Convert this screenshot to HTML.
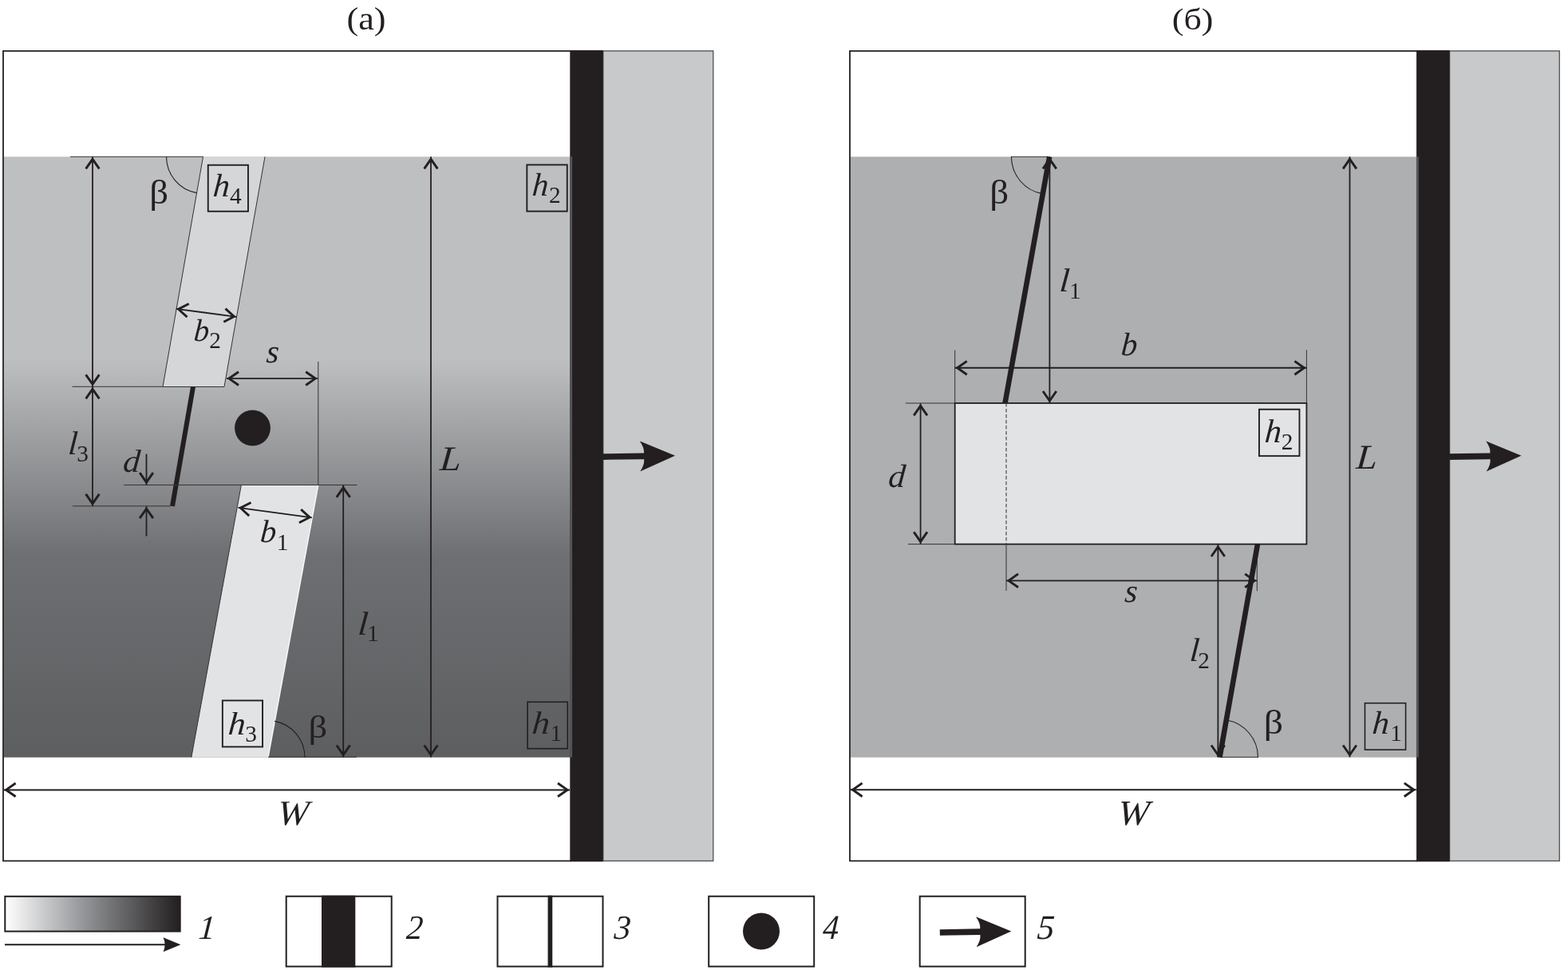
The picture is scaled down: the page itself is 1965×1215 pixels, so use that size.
<!DOCTYPE html>
<html lang="ru">
<head>
<meta charset="utf-8">
<title>Figure</title>
<style>
html,body{margin:0;padding:0;background:#fff;}
body{width:1965px;height:1215px;overflow:hidden;}
svg{display:block;will-change:transform;}
</style>
</head>
<body>
<svg width="1965" height="1215" viewBox="0 0 1965 1215" font-family="'Liberation Serif', 'DejaVu Serif', serif" fill="#231f20">
<defs>
<linearGradient id="ga" x1="0" y1="196.3" x2="0" y2="948.7" gradientUnits="userSpaceOnUse">
<stop offset="0" stop-color="#bebfc1"/>
<stop offset="0.336" stop-color="#bebfc1"/>
<stop offset="0.664" stop-color="#6e6f72"/>
<stop offset="1" stop-color="#5d5e60"/>
</linearGradient>
<linearGradient id="gl" x1="0" y1="0" x2="1" y2="0">
<stop offset="0" stop-color="#ffffff"/>
<stop offset="0.45" stop-color="#939598"/>
<stop offset="1" stop-color="#231f20"/>
</linearGradient>
</defs>
<rect x="0" y="0" width="1965" height="1215" fill="#fff"/>
<g id="panel-a">
<rect x="4" y="63.8" width="710.3" height="1014.6" fill="#fff"/>
<rect x="4.9" y="196.3" width="712.4" height="752.4" fill="url(#ga)"/>
<rect x="755.8" y="63.8" width="138.0" height="1014.6" fill="#c8c9cb" stroke="#4f5052" stroke-width="1.3"/>
<rect x="714.3" y="62.9" width="41.5" height="1016.4" fill="#231f20"/>
<rect x="714.0999999999999" y="196.3" width="3" height="752.4" fill="#535456"/>
<path d="M715.3,63.8 L4,63.8 L4,1078.4 L715.3,1078.4" fill="none" stroke="#231f20" stroke-width="1.8"/>
<polygon points="254.5,196.3 332,196.3 281,484.5 204,484.5" fill="#d5d6d8"/>
<line x1="254.5" y1="196.3" x2="204" y2="484.5" stroke="#333335" stroke-width="1.0" />
<line x1="332" y1="196.3" x2="281" y2="484.5" stroke="#333335" stroke-width="1.0" />
<line x1="204" y1="484.5" x2="281" y2="484.5" stroke="#333335" stroke-width="1.0" />
<polygon points="302.3,607.8 398.7,607.8 336,948.7 239.8,948.7" fill="#e2e3e4"/>
<line x1="302.3" y1="607.8" x2="239.8" y2="948.7" stroke="#333335" stroke-width="1.0" />
<line x1="398.7" y1="607.8" x2="336" y2="948.7" stroke="#f6f6f7" stroke-width="1.5" />
<line x1="242" y1="484.5" x2="216" y2="634" stroke="#231f20" stroke-width="6" />
<circle cx="316.5" cy="536.1" r="22.8" fill="#231f20" stroke="#b9babc" stroke-opacity="0.6" stroke-width="1"/>
<line x1="88" y1="196.3" x2="254.5" y2="196.3" stroke="#333335" stroke-width="1.0" />
<line x1="90.5" y1="484.3" x2="204" y2="484.3" stroke="#333335" stroke-width="1.0" />
<line x1="90.8" y1="633.9" x2="214" y2="633.9" stroke="#333335" stroke-width="1.0" />
<line x1="155.2" y1="607.5" x2="447.4" y2="607.5" stroke="#333335" stroke-width="1.0" />
<line x1="398.8" y1="453" x2="398.8" y2="607.5" stroke="#333335" stroke-width="1.0" />
<line x1="336" y1="948.3000000000001" x2="447" y2="948.3000000000001" stroke="#333335" stroke-width="1.0" />
<path d="M208.5,196.3 A46,46 0 0 0 246.5,241.6" fill="none" stroke="#231f20" stroke-width="1.1"/>
<path d="M382.0,948.7 A46,46 0 0 0 344.0,903.4" fill="none" stroke="#231f20" stroke-width="1.1"/>
<line x1="116" y1="196.3" x2="116" y2="484.3" stroke="#231f20" stroke-width="1.8" />
<polyline points="124.4,469.3 116.0,481.3 107.6,469.3" fill="none" stroke="#231f20" stroke-width="2.9" stroke-miterlimit="10"/>
<polyline points="107.6,211.3 116.0,199.3 124.4,211.3" fill="none" stroke="#231f20" stroke-width="2.9" stroke-miterlimit="10"/>
<line x1="116" y1="484.3" x2="116" y2="633.9" stroke="#231f20" stroke-width="1.8" />
<polyline points="124.4,618.9 116.0,630.9 107.6,618.9" fill="none" stroke="#231f20" stroke-width="2.9" stroke-miterlimit="10"/>
<polyline points="107.6,499.3 116.0,487.3 124.4,499.3" fill="none" stroke="#231f20" stroke-width="2.9" stroke-miterlimit="10"/>
<line x1="183.5" y1="568.7" x2="183.5" y2="607.2" stroke="#231f20" stroke-width="1.8" />
<polyline points="191.9,592.2 183.5,604.2 175.1,592.2" fill="none" stroke="#231f20" stroke-width="2.9" stroke-miterlimit="10"/>
<line x1="183.5" y1="671.5" x2="183.5" y2="634.2" stroke="#231f20" stroke-width="1.8" />
<polyline points="175.1,649.2 183.5,637.2 191.9,649.2" fill="none" stroke="#231f20" stroke-width="2.9" stroke-miterlimit="10"/>
<line x1="284" y1="474.1" x2="398.2" y2="474.1" stroke="#231f20" stroke-width="1.8" />
<polyline points="383.2,465.7 395.2,474.1 383.2,482.5" fill="none" stroke="#231f20" stroke-width="2.9" stroke-miterlimit="10"/>
<polyline points="299.0,482.5 287.0,474.1 299.0,465.7" fill="none" stroke="#231f20" stroke-width="2.9" stroke-miterlimit="10"/>
<line x1="220.7" y1="386.8" x2="296.3" y2="396.9" stroke="#231f20" stroke-width="1.8" />
<polyline points="282.5,386.6 293.4,396.5 280.3,403.2" fill="none" stroke="#231f20" stroke-width="2.9" stroke-miterlimit="10"/>
<polyline points="234.5,397.1 223.6,387.2 236.7,380.5" fill="none" stroke="#231f20" stroke-width="2.9" stroke-miterlimit="10"/>
<line x1="298.5" y1="635.8" x2="390.9" y2="648.4" stroke="#231f20" stroke-width="1.8" />
<polyline points="377.2,638.1 388.0,648.0 374.9,654.7" fill="none" stroke="#231f20" stroke-width="2.9" stroke-miterlimit="10"/>
<polyline points="312.2,646.1 301.4,636.2 314.5,629.5" fill="none" stroke="#231f20" stroke-width="2.9" stroke-miterlimit="10"/>
<line x1="430.2" y1="607.8" x2="430.2" y2="948.5" stroke="#231f20" stroke-width="1.8" />
<polyline points="438.6,933.5 430.2,945.5 421.8,933.5" fill="none" stroke="#231f20" stroke-width="2.9" stroke-miterlimit="10"/>
<polyline points="421.8,622.8 430.2,610.8 438.6,622.8" fill="none" stroke="#231f20" stroke-width="2.9" stroke-miterlimit="10"/>
<line x1="540" y1="196.3" x2="540" y2="948.5" stroke="#231f20" stroke-width="1.8" />
<polyline points="548.4,933.5 540.0,945.5 531.6,933.5" fill="none" stroke="#231f20" stroke-width="2.9" stroke-miterlimit="10"/>
<polyline points="531.6,211.3 540.0,199.3 548.4,211.3" fill="none" stroke="#231f20" stroke-width="2.9" stroke-miterlimit="10"/>
<line x1="4.6" y1="989.4" x2="714" y2="989.4" stroke="#231f20" stroke-width="2.0" />
<polyline points="699.0,981.0 711.0,989.4 699.0,997.8" fill="none" stroke="#231f20" stroke-width="2.9" stroke-miterlimit="10"/>
<polyline points="19.6,997.8 7.6,989.4 19.6,981.0" fill="none" stroke="#231f20" stroke-width="2.9" stroke-miterlimit="10"/>
<path transform="rotate(-0.8 800.65 571.5)" d="M755.3,567.7 L807,567.7 Q808,561.7 802,552.5 L846,571.5 L802,590.5 Q808,581.3 807,575.3 L755.3,575.3 Z" fill="#231f20"/>
<rect x="260.75" y="206.75" width="50.20" height="58.00" fill="none" stroke="#231f20" stroke-width="1.9"/>
<rect x="660.35" y="206.45" width="50.40" height="58.20" fill="none" stroke="#231f20" stroke-width="1.9"/>
<rect x="278.85" y="877.45" width="50.20" height="58.00" fill="none" stroke="#231f20" stroke-width="1.9"/>
<rect x="661.10" y="879.30" width="50.20" height="58.40" fill="none" stroke="#231f20" stroke-width="1.6"/>
<text transform="translate(434.43,37.25) scale(1.113,1)" font-size="39.78">(a)</text>
<text transform="translate(187.29,255.35) scale(1.136,1)" font-size="41.21">β</text>
<g><text transform="translate(266.23,246.10) scale(1.027,1) skewX(-4)" font-size="40.72" font-style="italic">h</text><text x="288.11" y="254.70" font-size="29.3">4</text></g>
<g><text transform="translate(666.17,245.40) scale(1.003,1) skewX(-4)" font-size="40.58" font-style="italic">h</text><text x="687.93" y="253.80" font-size="29.3">2</text></g>
<g><text transform="translate(242.16,426.71) scale(0.982,1) skewX(-4)" font-size="39.14" font-style="italic">b</text><text x="262.13" y="436.10" font-size="29.3">2</text></g>
<text transform="translate(332.89,454.09) scale(1.011,1) skewX(-4)" font-size="40.62" font-style="italic">s</text>
<g><text transform="translate(84.78,569.30) scale(1.023,1) skewX(-4)" font-size="41.45" font-style="italic">l</text><text x="96.33" y="577.91" font-size="29.3">3</text></g>
<text transform="translate(153.49,590.70) scale(1.069,1) skewX(-4)" font-size="40.00" font-style="italic">d</text>
<g><text transform="translate(325.40,678.60) scale(1.000,1) skewX(-4)" font-size="40.00" font-style="italic">b</text><text x="346.76" y="689.00" font-size="29.3">1</text></g>
<g><text transform="translate(447.82,794.60) scale(1.104,1) skewX(-4)" font-size="41.30" font-style="italic">l</text><text x="460.06" y="802.70" font-size="29.3">1</text></g>
<text transform="translate(550.58,589.00) scale(1.100,1) skewX(-4)" font-size="43.38" font-style="italic">L</text>
<g><text transform="translate(285.17,920.10) scale(1.068,1) skewX(-4)" font-size="40.43" font-style="italic">h</text><text x="307.24" y="929.41" font-size="29.3">3</text></g>
<text transform="translate(386.50,923.96) scale(1.146,1)" font-size="40.66">β</text>
<g><text transform="translate(665.93,919.20) scale(1.104,1) skewX(-4)" font-size="40.14" font-style="italic">h</text><text x="689.46" y="928.20" font-size="29.3">1</text></g>
<text transform="translate(346.79,1032.56) scale(1.075,1) skewX(-4)" font-size="44.09" font-style="italic">W</text>
</g>
<g id="panel-b">
<rect x="1065" y="63.8" width="710.0999999999999" height="1014.6" fill="#fff"/>
<rect x="1065.9" y="196.3" width="712.2" height="752.4" fill="#aeafb1"/>
<rect x="1816.6" y="63.8" width="137.7" height="1014.6" fill="#c8c9cb" stroke="#4f5052" stroke-width="1.3"/>
<rect x="1775.1" y="62.9" width="41.5" height="1016.4" fill="#231f20"/>
<rect x="1774.8999999999999" y="196.3" width="3" height="752.4" fill="#535456"/>
<path d="M1776.1,63.8 L1065,63.8 L1065,1078.4 L1776.1,1078.4" fill="none" stroke="#231f20" stroke-width="1.8"/>
<rect x="1196.7" y="505" width="440.7" height="176.6" fill="#e2e3e4" stroke="#231f20" stroke-width="1.8"/>
<line x1="1261" y1="505" x2="1261" y2="681.6" stroke="#4b4b4d" stroke-width="1.2" stroke-dasharray="4.4 2.6"/>
<line x1="1261" y1="681.6" x2="1261" y2="740" stroke="#333335" stroke-width="1.0" />
<line x1="1575.3" y1="681.6" x2="1575.3" y2="740.3" stroke="#333335" stroke-width="1.0" />
<line x1="1196.7" y1="438.7" x2="1196.7" y2="505" stroke="#333335" stroke-width="1.0" />
<line x1="1637.4" y1="438.3" x2="1637.4" y2="505" stroke="#333335" stroke-width="1.0" />
<line x1="1134.8" y1="505" x2="1196.7" y2="505" stroke="#333335" stroke-width="1.0" />
<line x1="1138" y1="681.6" x2="1196.7" y2="681.6" stroke="#333335" stroke-width="1.0" />
<line x1="1267" y1="196.3" x2="1314" y2="196.3" stroke="#333335" stroke-width="1.0" />
<line x1="1529" y1="948.4000000000001" x2="1577" y2="948.4000000000001" stroke="#333335" stroke-width="1.0" />
<path d="M1267.5,196.3 A47,47 0 0 0 1306.2,242.6" fill="none" stroke="#231f20" stroke-width="1.1"/>
<path d="M1576.5,948.7 A47.5,47.5 0 0 0 1537.4,902.0" fill="none" stroke="#231f20" stroke-width="1.1"/>
<line x1="1315.4" y1="196.3" x2="1315.4" y2="505" stroke="#231f20" stroke-width="1.8" />
<polyline points="1323.8,490.0 1315.4,502.0 1307.0,490.0" fill="none" stroke="#231f20" stroke-width="2.9" stroke-miterlimit="10"/>
<polyline points="1307.0,211.3 1315.4,199.3 1323.8,211.3" fill="none" stroke="#231f20" stroke-width="2.9" stroke-miterlimit="10"/>
<line x1="1526.4" y1="682" x2="1526.4" y2="948.5" stroke="#231f20" stroke-width="1.8" />
<polyline points="1534.8,933.5 1526.4,945.5 1518.0,933.5" fill="none" stroke="#231f20" stroke-width="2.9" stroke-miterlimit="10"/>
<polyline points="1518.0,697.0 1526.4,685.0 1534.8,697.0" fill="none" stroke="#231f20" stroke-width="2.9" stroke-miterlimit="10"/>
<line x1="1315.2" y1="196.3" x2="1259.5" y2="505" stroke="#231f20" stroke-width="6.6" />
<line x1="1576" y1="681.6" x2="1528.5" y2="948.7" stroke="#231f20" stroke-width="6.6" />
<line x1="1196.7" y1="460.8" x2="1637.4" y2="460.8" stroke="#231f20" stroke-width="2.0" />
<polyline points="1622.4,452.4 1634.4,460.8 1622.4,469.2" fill="none" stroke="#231f20" stroke-width="2.9" stroke-miterlimit="10"/>
<polyline points="1211.7,469.2 1199.7,460.8 1211.7,452.4" fill="none" stroke="#231f20" stroke-width="2.9" stroke-miterlimit="10"/>
<line x1="1153.6" y1="505.3" x2="1153.6" y2="681.4" stroke="#231f20" stroke-width="1.8" />
<polyline points="1162.0,666.4 1153.6,678.4 1145.2,666.4" fill="none" stroke="#231f20" stroke-width="2.9" stroke-miterlimit="10"/>
<polyline points="1145.2,520.3 1153.6,508.3 1162.0,520.3" fill="none" stroke="#231f20" stroke-width="2.9" stroke-miterlimit="10"/>
<line x1="1261" y1="727.3" x2="1575.2" y2="727.3" stroke="#231f20" stroke-width="1.8" />
<polyline points="1560.2,718.9 1572.2,727.3 1560.2,735.7" fill="none" stroke="#231f20" stroke-width="2.9" stroke-miterlimit="10"/>
<polyline points="1276.0,735.7 1264.0,727.3 1276.0,718.9" fill="none" stroke="#231f20" stroke-width="2.9" stroke-miterlimit="10"/>
<line x1="1691.5" y1="196.3" x2="1691.5" y2="948.5" stroke="#231f20" stroke-width="1.8" />
<polyline points="1699.9,933.5 1691.5,945.5 1683.1,933.5" fill="none" stroke="#231f20" stroke-width="2.9" stroke-miterlimit="10"/>
<polyline points="1683.1,211.3 1691.5,199.3 1699.9,211.3" fill="none" stroke="#231f20" stroke-width="2.9" stroke-miterlimit="10"/>
<line x1="1065.6" y1="989.3" x2="1774.8" y2="989.3" stroke="#231f20" stroke-width="2.0" />
<polyline points="1759.8,980.9 1771.8,989.3 1759.8,997.7" fill="none" stroke="#231f20" stroke-width="2.9" stroke-miterlimit="10"/>
<polyline points="1080.6,997.7 1068.6,989.3 1080.6,980.9" fill="none" stroke="#231f20" stroke-width="2.9" stroke-miterlimit="10"/>
<path transform="rotate(-0.8 1861.35 571.5)" d="M1816.2,567.7 L1867.5,567.7 Q1868.5,561.7 1862.5,552.5 L1906.5,571.5 L1862.5,590.5 Q1868.5,581.3 1867.5,575.3 L1816.2,575.3 Z" fill="#231f20"/>
<rect x="1577.95" y="512.75" width="50.50" height="58.40" fill="none" stroke="#231f20" stroke-width="1.9"/>
<rect x="1710.50" y="880.70" width="51.10" height="58.40" fill="none" stroke="#231f20" stroke-width="1.6"/>
<text transform="translate(1468.74,37.43) scale(1.132,1)" font-size="38.91">(б)</text>
<text transform="translate(1240.18,255.25) scale(1.142,1)" font-size="41.21">β</text>
<g><text transform="translate(1326.96,365.40) scale(1.085,1) skewX(-4)" font-size="41.30" font-style="italic">l</text><text x="1339.96" y="374.00" font-size="29.3">1</text></g>
<text transform="translate(1404.37,444.79) scale(0.999,1) skewX(-4)" font-size="40.71" font-style="italic">b</text>
<text transform="translate(1112.39,609.99) scale(1.054,1) skewX(-4)" font-size="40.57" font-style="italic">d</text>
<g><text transform="translate(1584.13,554.40) scale(1.009,1) skewX(-4)" font-size="41.45" font-style="italic">h</text><text x="1605.83" y="562.80" font-size="29.3">2</text></g>
<text transform="translate(1698.78,587.20) scale(1.092,1) skewX(-4)" font-size="43.54" font-style="italic">L</text>
<text transform="translate(1408.69,754.49) scale(1.012,1) skewX(-4)" font-size="40.83" font-style="italic">s</text>
<g><text transform="translate(1490.36,827.70) scale(1.033,1) skewX(-4)" font-size="41.45" font-style="italic">l</text><text x="1501.13" y="836.50" font-size="29.3">2</text></g>
<text transform="translate(1583.83,919.35) scale(1.160,1)" font-size="41.21">β</text>
<g><text transform="translate(1719.11,919.30) scale(1.042,1) skewX(-4)" font-size="40.58" font-style="italic">h</text><text x="1742.16" y="928.00" font-size="29.3">1</text></g>
<text transform="translate(1399.98,1032.76) scale(1.074,1) skewX(-4)" font-size="44.24" font-style="italic">W</text>
</g>
<g id="legend">
<rect x="6.3" y="1122.8" width="219.4" height="43.8" fill="url(#gl)" stroke="#231f20" stroke-width="2"/>
<line x1="6" y1="1183.2" x2="210" y2="1183.2" stroke="#231f20" stroke-width="2" />
<path d="M204.6,1174.2 L226.4,1183.2 L204.6,1192.2 Q208.6,1183.2 204.6,1174.2 Z" fill="#231f20"/>
<rect x="358.7" y="1122.7" width="132" height="87.9" fill="#fff" stroke="#231f20" stroke-width="2"/>
<rect x="403" y="1121.7" width="42.3" height="89.9" fill="#231f20"/>
<rect x="623.5" y="1122.7" width="132" height="87.9" fill="#fff" stroke="#231f20" stroke-width="2"/>
<line x1="689.4" y1="1121.7" x2="689.4" y2="1211.6" stroke="#231f20" stroke-width="5.7" />
<rect x="888.2" y="1122.7" width="132" height="87.9" fill="#fff" stroke="#231f20" stroke-width="2"/>
<circle cx="954" cy="1166.5" r="23" fill="#231f20"/>
<rect x="1152.7" y="1122.7" width="132" height="87.9" fill="#fff" stroke="#231f20" stroke-width="2"/>
<path transform="rotate(-1.0 1222.55 1167.2)" d="M1177.8,1163.4 L1228.3,1163.4 Q1229.3,1157.4 1223.3,1148.2 L1267.3,1167.2 L1223.3,1186.2 Q1229.3,1177.0 1228.3,1171.0 L1177.8,1171.0 Z" fill="#231f20"/>
<text transform="translate(247.92,1175.90) scale(0.996,1) skewX(-4)" font-size="42.27" font-style="italic">1</text>
<text transform="translate(508.50,1176.20) scale(0.973,1) skewX(-4)" font-size="42.73" font-style="italic">2</text>
<text transform="translate(769.10,1176.07) scale(0.978,1) skewX(-4)" font-size="42.54" font-style="italic">3</text>
<text transform="translate(1030.40,1176.20) scale(0.926,1) skewX(-4)" font-size="43.18" font-style="italic">4</text>
<text transform="translate(1299.03,1176.07) scale(1.002,1) skewX(-4)" font-size="43.18" font-style="italic">5</text>
</g>
</svg>
</body>
</html>
